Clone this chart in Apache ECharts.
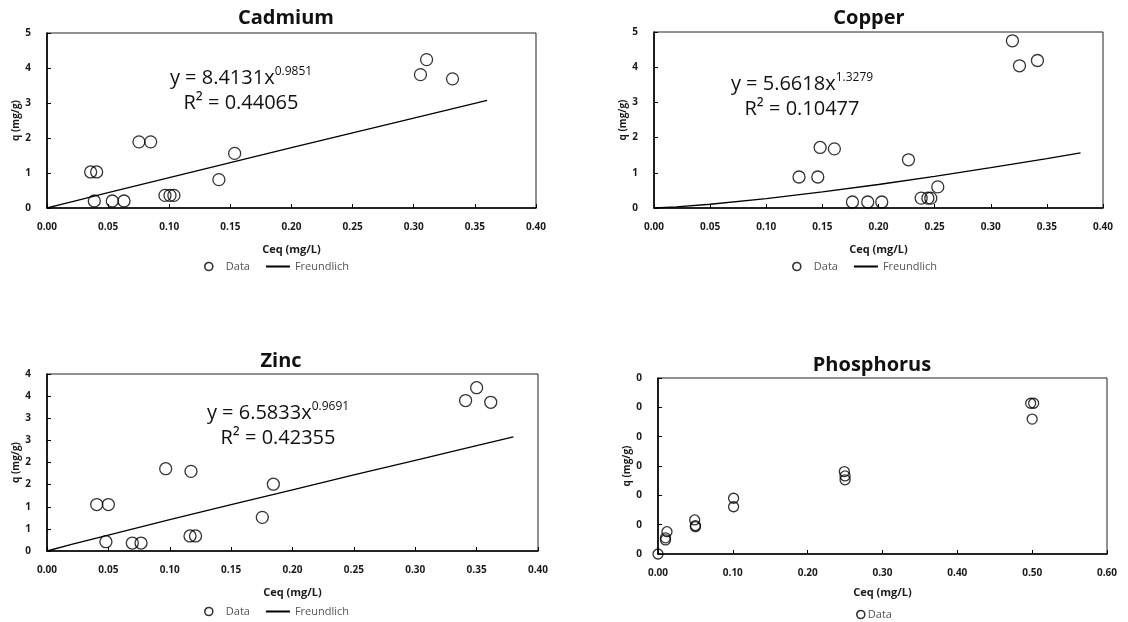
<!DOCTYPE html>
<html>
<head>
<meta charset="utf-8">
<script src="https://cdn.jsdelivr.net/npm/echarts@6/dist/echarts.min.js"></script>
<style>
  html, body { margin: 0; padding: 0; background: #fff; }
  #chart { width: 1128px; height: 622px; }
</style>
</head>
<body>
<div id="chart"></div>
<script>
// Adsorption isotherms: measured q versus Ceq with Freundlich fits

// Cadmium
const cadmiumCeq = [0.0357, 0.0406, 0.0387, 0.0534, 0.0630, 0.0752, 0.0848, 0.0965, 0.1006, 0.1038, 0.1406, 0.1535, 0.3055, 0.3105, 0.3317];
const cadmiumQ   = [1.03, 1.03, 0.20, 0.20, 0.20, 1.89, 1.89, 0.36, 0.36, 0.36, 0.81, 1.56, 3.81, 4.24, 3.69];
const cadmiumFitCeq = [0, 0.01, 0.02, 0.05, 0.10, 0.15, 0.20, 0.25, 0.30, 0.36];
const cadmiumFitQ   = [0, 0.090, 0.178, 0.440, 0.871, 1.298, 1.723, 2.147, 2.570, 3.075];

// Copper
const copperCeq = [0.1292, 0.1459, 0.1480, 0.1607, 0.1768, 0.1904, 0.2029, 0.2267, 0.2380, 0.2440, 0.2466, 0.2528, 0.3193, 0.3256, 0.3416];
const copperQ   = [0.88, 0.88, 1.72, 1.68, 0.17, 0.17, 0.17, 1.37, 0.28, 0.28, 0.28, 0.60, 4.75, 4.04, 4.19];
const copperFitCeq = [0, 0.02, 0.05, 0.10, 0.15, 0.20, 0.25, 0.30, 0.35, 0.38];
const copperFitQ   = [0, 0.031, 0.106, 0.266, 0.456, 0.668, 0.898, 1.144, 1.405, 1.567];

// Zinc
const zincCeq = [0.0405, 0.0500, 0.0480, 0.0695, 0.0766, 0.0967, 0.1173, 0.1165, 0.1210, 0.1754, 0.1844, 0.3410, 0.3500, 0.3615];
const zincQ   = [1.05, 1.05, 0.21, 0.18, 0.18, 1.86, 1.80, 0.34, 0.34, 0.76, 1.51, 3.40, 3.69, 3.36];
const zincFitCeq = [0, 0.02, 0.05, 0.10, 0.15, 0.20, 0.25, 0.30, 0.35, 0.38];
const zincFitQ   = [0, 0.149, 0.361, 0.707, 1.047, 1.384, 1.718, 2.050, 2.380, 2.577];

// Phosphorus
const phosphorusCeq = [0, 0.010, 0.010, 0.012, 0.049, 0.050, 0.050, 0.101, 0.101, 0.249, 0.250, 0.250, 0.498, 0.502, 0.500];
const phosphorusQ   = [0, 0.024, 0.0275, 0.038, 0.058, 0.0485, 0.0465, 0.095, 0.0805, 0.1405, 0.133, 0.1265, 0.257, 0.257, 0.230];

// Panel titles and fit equations
const panelTitles = ['Cadmium', 'Copper', 'Zinc', 'Phosphorus'];
const fitEquations = [
  { a: '8.4131', n: '0.9851', r2: '0.44065' },
  { a: '5.6618', n: '1.3279', r2: '0.10477' },
  { a: '6.5833', n: '0.9691', r2: '0.42355' }
];
const xAxisTitle = 'Ceq (mg/L)';
const yAxisTitle = 'q (mg/g)';

const pairs = (xs, ys) => xs.map((x, i) => [x, ys[i]]);

const FONT = '"Open Sans", "Liberation Sans", sans-serif';
const tickLabel = { fontFamily: FONT, fontWeight: 'bold', fontSize: 10, color: '#1a1a1a' };

const grids = [
  { left: 47,  top: 33,  width: 489, height: 175 },
  { left: 654, top: 32,  width: 449, height: 176 },
  { left: 47,  top: 374, width: 491, height: 177 },
  { left: 658, top: 378, width: 449, height: 176 }
].map(g => Object.assign({ show: true, borderColor: '#222', borderWidth: 1, backgroundColor: 'transparent' }, g));

function xAxis(gridIndex, max, interval, nameGap) {
  return {
    type: 'value', gridIndex, min: 0, max, interval,
    name: xAxisTitle, nameLocation: 'middle', nameGap,
    nameTextStyle: { fontFamily: FONT, fontWeight: 'bold', fontSize: 11, color: '#1a1a1a' },
    axisLine: { show: true, onZero: false, lineStyle: { color: '#000', width: 1.6 } },
    axisTick: { show: true, inside: true, length: 4, lineStyle: { color: '#000', width: 1 } },
    axisLabel: Object.assign({ margin: 14, formatter: v => v.toFixed(2) }, tickLabel),
    splitLine: { show: false }
  };
}

function yAxis(gridIndex, max, interval, fmt) {
  return {
    type: 'value', gridIndex, min: 0, max, interval,
    name: yAxisTitle, nameLocation: 'middle', nameGap: 25, nameRotate: 90,
    nameTextStyle: { fontFamily: FONT, fontWeight: 'bold', fontSize: 10, color: '#1a1a1a' },
    axisLine: { show: true, onZero: false, lineStyle: { color: '#000', width: 1.6 } },
    axisTick: { show: true, inside: true, length: 4, lineStyle: { color: '#000', width: 1 } },
    axisLabel: Object.assign({ margin: 16, formatter: fmt }, tickLabel),
    splitLine: { show: false }
  };
}

const roundLabel = v => String(Math.round(v));

function scatter(i, xs, ys, size) {
  return {
    name: 'Data', type: 'scatter', xAxisIndex: i, yAxisIndex: i,
    data: pairs(xs, ys), symbol: 'circle', symbolSize: size || 12,
    itemStyle: { color: 'rgba(255,255,255,0)', borderColor: '#000', borderWidth: 1.3 },
    z: 3
  };
}

function fitLine(i, xs, ys) {
  return {
    name: 'Freundlich', type: 'line', xAxisIndex: i, yAxisIndex: i,
    data: pairs(xs, ys), symbol: 'none', smooth: false,
    lineStyle: { color: '#000', width: 1.3 }, itemStyle: { color: '#000' },
    z: 2
  };
}

function titleAt(text, x, y) {
  return {
    text, left: x, top: y, textAlign: 'center',
    textStyle: { fontFamily: FONT, fontWeight: 'bold', fontSize: 20, color: '#111' }
  };
}

function equationAt(eq, x, y) {
  return {
    text: '{t|y = ' + eq.a + 'x}{s|' + eq.n + '}\n{t|R² = ' + eq.r2 + '}',
    left: x, top: y, textAlign: 'center',
    textStyle: {
      fontWeight: 'normal',
      rich: {
        t: { fontFamily: FONT, fontWeight: 'normal', fontSize: 20, color: '#111', lineHeight: 25 },
        s: { fontFamily: FONT, fontWeight: 'normal', fontSize: 12, color: '#111', verticalAlign: 'top', lineHeight: 25 }
      }
    }
  };
}

const dataLegendStyle = { color: 'rgba(255,255,255,0)', borderColor: '#000', borderWidth: 1.6 };

function legendAt(x, y, withFit) {
  const data = [{ name: 'Data', icon: 'circle', itemStyle: dataLegendStyle }];
  if (withFit) data.push({ name: 'Freundlich', itemStyle: { opacity: 0 } });
  return {
    left: x, top: y, orient: 'horizontal', data,
    itemWidth: withFit ? 24 : 10, itemHeight: 8, itemGap: 15,
    textStyle: { fontFamily: FONT, fontSize: 11, color: '#555', padding: withFit ? 0 : [0, 0, 0, -3] },
    selectedMode: false
  };
}

const option = {
  animation: false,
  backgroundColor: '#fff',
  title: [
    titleAt(panelTitles[0], 281, 3),
    titleAt(panelTitles[1], 864, 3),
    titleAt(panelTitles[2], 276, 346),
    titleAt(panelTitles[3], 867, 350),
    equationAt(fitEquations[0], 236, 61),
    equationAt(fitEquations[1], 797, 67),
    equationAt(fitEquations[2], 273, 396)
  ],
  legend: [
    legendAt(199, 256, true),
    legendAt(787, 256, true),
    legendAt(199, 601, true),
    legendAt(851, 604, false)
  ],
  grid: grids,
  xAxis: [
    xAxis(0, 0.4, 0.05, 36),
    xAxis(1, 0.4, 0.05, 36),
    xAxis(2, 0.4, 0.05, 36),
    xAxis(3, 0.6, 0.1, 33)
  ],
  yAxis: [
    yAxis(0, 5, 1, roundLabel),
    yAxis(1, 5, 1, roundLabel),
    yAxis(2, 4, 0.5, roundLabel),
    yAxis(3, 0.3, 0.05, roundLabel)
  ],
  series: [
    fitLine(0, cadmiumFitCeq, cadmiumFitQ),
    scatter(0, cadmiumCeq, cadmiumQ),
    fitLine(1, copperFitCeq, copperFitQ),
    scatter(1, copperCeq, copperQ),
    fitLine(2, zincFitCeq, zincFitQ),
    scatter(2, zincCeq, zincQ),
    scatter(3, phosphorusCeq, phosphorusQ, 10)
  ]
};

const chart = echarts.init(document.getElementById('chart'), null, { renderer: 'canvas' });
chart.setOption(option);
</script>
</body>
</html>
